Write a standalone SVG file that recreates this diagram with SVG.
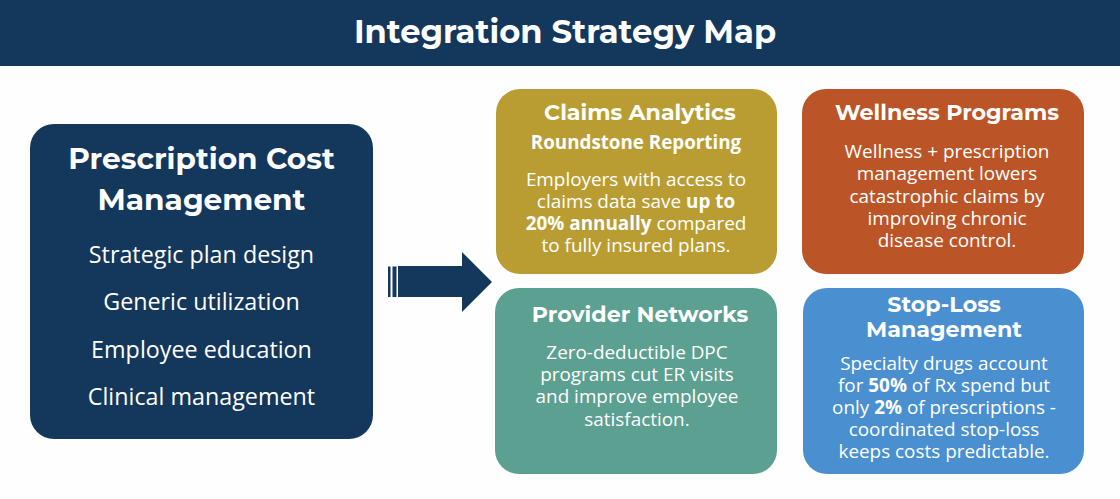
<svg xmlns="http://www.w3.org/2000/svg" width="1120" height="499" viewBox="0 0 1120 499">
<style>
text{font-family:"Open Sans","Noto Sans",sans-serif;fill:#fff;text-anchor:middle}
.t{font-family:"Montserrat","Open Sans",sans-serif;font-weight:700}
.h{font-family:"Montserrat","Open Sans",sans-serif;font-weight:700;font-size:22.2px}
.b{font-size:18.9px}
.m{font-size:23.3px}
.s{font-weight:700}
</style>
<rect width="1120" height="499" fill="#fefefe"/>
<g id="title"><rect width="1120" height="66" fill="#14375c"/><text class="t" x="565" y="43" font-size="32.200">Integration Strategy Map</text></g>
<g id="main"><rect x="30" y="124" width="343" height="315" rx="24" fill="#14375c"/>
<text class="t" x="201.500" y="169" font-size="29.600">Prescription Cost</text>
<text class="t" x="201.500" y="210" font-size="29.600">Management</text>
<text class="m" x="201.500" y="263">Strategic plan design</text>
<text class="m" x="201.500" y="310">Generic utilization</text>
<text class="m" x="201.500" y="358">Employee education</text>
<text class="m" x="201.500" y="405">Clinical management</text></g>
<g id="connectors"><path d="M388 266.500h2.500v30.500h-2.500zM392.500 266.500h4v30.500h-4zM398 266h64v-14l30 30-30 30v-15h-64z" fill="#14375c"/></g>
<g id="claims"><rect x="496" y="89" width="281" height="185" rx="24" fill="#b99d33"/>
<text class="h" x="640" y="120">Claims Analytics</text>
<text x="636" y="149" font-size="18.800" font-weight="700">Roundstone Reporting</text>
<text class="b" x="636" y="186">Employers with access to</text>
<text class="b" x="636" y="208">claims data save <tspan class="s">up to</tspan></text>
<text class="b" x="636" y="230"><tspan class="s">20% annually</tspan> compared</text>
<text class="b" x="636" y="252">to fully insured plans.</text></g>
<g id="wellness"><rect x="802" y="89" width="282" height="185" rx="24" fill="#bb5527"/>
<text class="h" x="947" y="120">Wellness Programs</text>
<text class="b" x="947" y="158">Wellness + prescription</text>
<text class="b" x="947" y="180">management lowers</text>
<text class="b" x="947" y="203">catastrophic claims by</text>
<text class="b" x="947" y="225">improving chronic</text>
<text class="b" x="947" y="247">disease control.</text></g>
<g id="provider"><rect x="495" y="288" width="282" height="186" rx="24" fill="#5ba090"/>
<text class="h" x="640" y="322">Provider Networks</text>
<text class="b" x="637" y="359">Zero-deductible DPC</text>
<text class="b" x="637" y="381">programs cut ER visits</text>
<text class="b" x="637" y="403">and improve employee</text>
<text class="b" x="637" y="426">satisfaction.</text></g>
<g id="stoploss"><rect x="803" y="288" width="281" height="186" rx="24" fill="#4a90d0"/>
<text class="h" x="944" y="312">Stop-Loss</text>
<text class="h" x="944" y="337">Management</text>
<text class="b" x="944" y="370">Specialty drugs account</text>
<text class="b" x="944" y="392">for <tspan class="s">50%</tspan> of Rx spend but</text>
<text class="b" x="944" y="414">only <tspan class="s">2%</tspan> of prescriptions -</text>
<text class="b" x="944" y="436">coordinated stop-loss</text>
<text class="b" x="944" y="458">keeps costs predictable.</text></g>
</svg>
